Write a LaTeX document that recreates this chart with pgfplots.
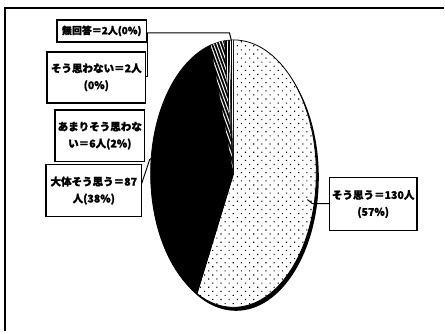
\documentclass[border=0pt]{standalone}
\usepackage{fontspec}
\setmainfont{Noto Sans CJK JP}[BoldFeatures={FakeBold=1.5}]
\usepackage{pgfplots}
\usepackage{pgfplotstable}
\pgfplotsset{compat=1.18}
\usetikzlibrary{patterns.meta}

% answers, in the order the slices run clockwise from 12 o'clock
\pgfplotstableread{
answer   count
sou      130
daitai   87
amari    6
omowanai 2
mukaito  2
}\piedata

\pgfplotstablegetelem{0}{count}\of\piedata \edef\vA{\pgfplotsretval}
\pgfplotstablegetelem{1}{count}\of\piedata \edef\vB{\pgfplotsretval}
\pgfplotstablegetelem{2}{count}\of\piedata \edef\vC{\pgfplotsretval}
\pgfplotstablegetelem{3}{count}\of\piedata \edef\vD{\pgfplotsretval}
\pgfplotstablegetelem{4}{count}\of\piedata \edef\vE{\pgfplotsretval}
\pgfmathsetmacro\total{\vA+\vB+\vC+\vD+\vE}
\pgfmathsetmacro\aA{90}
\pgfmathsetmacro\aB{\aA-360*(\vA/\total)}
\pgfmathsetmacro\aC{\aB-360*(\vB/\total)}
\pgfmathsetmacro\aD{\aC-360*(\vC/\total)}
\pgfmathsetmacro\aE{\aD-360*(\vD/\total)}
\pgfmathsetmacro\aF{\aE-360*(\vE/\total)}

% pie centre and radii (axis units = bp)
\def\cx{234}\def\cy{158}\def\rx{83}\def\ry{134}
\newcommand\pieslice[3]{%
  \path[#3] (axis cs:\cx,\cy) -- ++(#1:\rx bp and \ry bp)
    arc[start angle=#1, end angle=#2, x radius=\rx bp, y radius=\ry bp] -- cycle;}

\tikzset{
  lbl/.style={font=\bfseries\fontsize{10.6}{17}\selectfont, align=center, inner sep=0pt},
  box/.style={draw=black, line width=1.5bp},
  lead/.style={draw=black, line width=1bp},
}

\begin{document}
\begin{tikzpicture}
\begin{axis}[
    x=1bp, y=1bp,
    xmin=0, xmax=445, ymin=0, ymax=332,
    hide axis, clip=false,
]
  \path (axis cs:0,0) rectangle (axis cs:445,332);
  % frame (only top and left edges show)
  \draw[line width=2bp] (axis cs:5,0) -- (axis cs:5,324) -- (axis cs:445,324);

  % shadow rim at lower right
  \fill[black] (axis cs:\cx+2.5,\cy-3.5) ellipse[x radius=\rx bp, y radius=\ry bp];

  \pieslice{\aA}{\aB}{fill=white, postaction={pattern={Dots[angle=45, distance=5.8bp, radius=0.8bp]}}, draw=black, line width=0.8bp}
  \pieslice{\aB}{\aC}{fill=black, draw=black, line width=0.8bp}
  \pieslice{\aC}{\aD}{fill=black, postaction={pattern={Lines[angle=-70, distance=3bp, line width=1bp]}, pattern color=white}, draw=black, line width=0.5bp}
  \pieslice{\aD}{\aE}{fill=white, postaction={pattern={Lines[angle=90, distance=1.6bp, line width=0.6bp]}}, draw=black, line width=0.5bp}
  \pieslice{\aE}{\aF}{fill=white, postaction={pattern={Lines[angle=90, distance=2bp, line width=0.5bp]}}, draw=black, line width=0.5bp}

  % leader lines
  \draw[lead] (axis cs:146,299) -- (axis cs:230,299) -- (axis cs:232,291);
  \draw[lead] (axis cs:146,255) -- (axis cs:148,255) -- (axis cs:148,299);
  \draw[lead] (axis cs:142,148) -- (axis cs:150,172) -- (axis cs:154,175);
  \draw[lead] (axis cs:330,128) -- (axis cs:313,128) -- (axis cs:308,132);

  % label boxes
  \draw[box, fill=white] (axis cs:57,290) rectangle (axis cs:147,312);
  \node[lbl, font=\bfseries\fontsize{10}{12}\selectfont] at (axis cs:102,301) {無回答＝2人(0\%)};
  \draw[box, fill=white] (axis cs:47,229) rectangle (axis cs:146,280);
  \node[lbl] at (axis cs:96.5,254.5) {そう思わない＝2人\\(0\%)};
  \draw[box, fill=white] (axis cs:55,170) rectangle (axis cs:145,222);
  \node[lbl] at (axis cs:100,196) {あまりそう思わな\\い＝6人(2\%)};
  \draw[box, fill=white] (axis cs:46,115) rectangle (axis cs:142,167);
  \node[lbl] at (axis cs:94,141) {大体そう思う＝87\\人(38\%)};
  \draw[box, fill=white] (axis cs:330,101) rectangle (axis cs:418,154);
  \node[lbl] at (axis cs:374,127.5) {そう思う＝130人\\(57\%)};
\end{axis}
\end{tikzpicture}
\end{document}
